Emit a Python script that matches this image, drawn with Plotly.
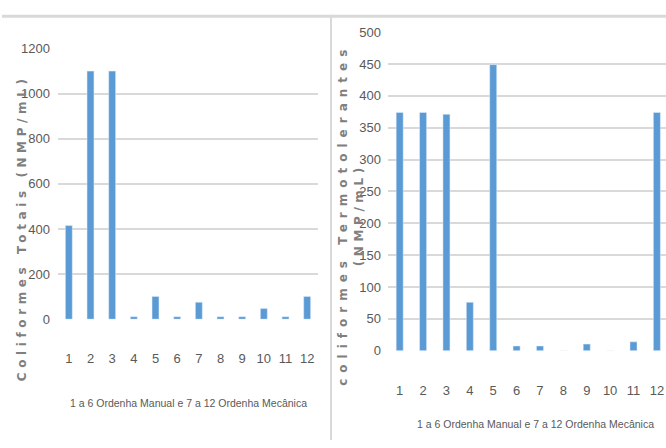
import plotly.graph_objects as go

# ---- data ----
categories = [str(i) for i in range(1, 13)]
coliformes_totais = [415, 1100, 1100, 11, 101, 11, 75, 11, 11, 47, 11, 101]
coliformes_termo = [374, 374, 371, 76, 449, 7.5, 7.5, 0, 10.5, 0, 14, 374]
left_yticks = [0, 200, 400, 600, 800, 1000, 1200]
right_yticks = [0, 50, 100, 150, 200, 250, 300, 350, 400, 450, 500]
x_title = "1 a 6 Ordenha Manual e 7 a 12 Ordenha Mecânica"
left_ytitle = "Coliformes Totais (NMP/mL)"
right_ytitle = "coliformes Termotolerantes<br>(NMP/mL)"

W, H = 666, 448
BAR = "#5b9bd5"
GRID = "#d9d9d9"
TICK = "#595959"
NARROW = "Liberation Sans, Arial, sans-serif"
WIDE = "DejaVu Sans, Verdana, sans-serif"

def px_x(v):
    return v / W

def px_y(v):
    return 1 - v / H

fig = go.Figure()
fig.add_trace(go.Bar(x=categories, y=coliformes_totais, marker_color=BAR,
                     xaxis="x", yaxis="y", width=0.32, showlegend=False))
fig.add_trace(go.Bar(x=categories, y=coliformes_termo, marker_color=BAR,
                     xaxis="x2", yaxis="y2", width=0.30, showlegend=False))

common_x = dict(type="category", showgrid=False, zeroline=False, showline=False,
                ticks="", tickfont=dict(family=NARROW, size=13, color=TICK))
common_y = dict(showgrid=True, gridcolor=GRID, gridwidth=1.5, zeroline=False,
                showline=False, ticks="", tickfont=dict(family=NARROW, size=13, color=TICK))

fig.update_layout(
    width=W, height=H,
    margin=dict(l=0, r=0, t=0, b=0),
    paper_bgcolor="white", plot_bgcolor="white",
    hovermode=False,
    xaxis=dict(common_x, domain=[px_x(58), px_x(318)], range=[-0.5, 11.5],
               anchor="y", ticklabelstandoff=30),
    yaxis=dict(common_y, domain=[px_y(323), px_y(43)], range=[0, 1200],
               tickvals=left_yticks, anchor="x", ticklabelstandoff=7),
    xaxis2=dict(common_x, domain=[px_x(388), 1], range=[-0.5, 11.39],
                anchor="y2", ticklabelstandoff=30),
    yaxis2=dict(common_y, domain=[px_y(355.7), px_y(26)], range=[0, 500],
                tickvals=right_yticks, anchor="x2", ticklabelstandoff=6),
    shapes=[
        dict(type="line", xref="paper", yref="paper", x0=px_x(2), x1=1,
             y0=px_y(9.5), y1=px_y(9.5), line=dict(color=GRID, width=3)),
        dict(type="line", xref="paper", yref="paper", x0=px_x(331), x1=px_x(331),
             y0=px_y(8), y1=0, line=dict(color=GRID, width=2)),
    ],
    annotations=[
        dict(text=x_title, xref="paper", yref="paper", x=px_x(188), y=px_y(410),
             xanchor="center", yanchor="middle", showarrow=False,
             font=dict(family=NARROW, size=10.5, color=TICK)),
        dict(text=x_title, xref="paper", yref="paper", x=px_x(535), y=px_y(431),
             xanchor="center", yanchor="middle", showarrow=False,
             font=dict(family=NARROW, size=10.5, color=TICK)),
        dict(text=left_ytitle, xref="paper", yref="paper", x=px_x(22), y=px_y(229),
             xanchor="center", yanchor="middle", textangle=-90, showarrow=False,
             font=dict(family=WIDE, size=12, color="#7f7f7f", weight="bold")),
        dict(text=right_ytitle, xref="paper", yref="paper", x=px_x(351), y=px_y(215),
             xanchor="center", yanchor="middle", textangle=-90, showarrow=False,
             font=dict(family=WIDE, size=12, color="#7f7f7f", weight="bold")),
    ],
)

post = """
document.documentElement.style.margin = '0';
document.body.style.margin = '0';
var gd = document.getElementById('{plot_id}');
gd.querySelectorAll('.annotation-text').forEach(function(t){
  var s = t.textContent;
  if (s.indexOf('coliformes') >= 0) {
    var spans = t.querySelectorAll('tspan.line');
    if (spans.length) {
      spans.forEach(function(sp){
        sp.style.letterSpacing = (sp.textContent.indexOf('coliformes') >= 0) ? '6px' : '4.6px';
      });
    } else { t.style.letterSpacing = '6px'; }
  } else if (s.indexOf('NMP') >= 0) {
    t.style.letterSpacing = '4.6px';
  }
});
"""
fig.write_html("out.html", post_script=post, config={"displayModeBar": False})
